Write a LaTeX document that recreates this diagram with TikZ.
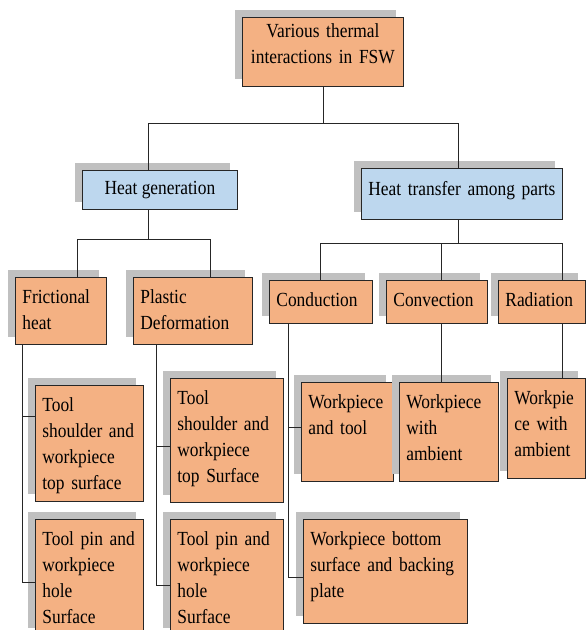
\documentclass[tikz,border=0pt]{standalone}
\usepackage{fontspec}
\setmainfont{Liberation Serif}[FakeStretch=0.87]
\usepackage{tikz}
\usetikzlibrary{shadows}
\definecolor{peach}{HTML}{F4B183}
\definecolor{paleblue}{HTML}{BDD7EE}
\definecolor{shadegrey}{HTML}{C0C0C0}
\tikzstyle{dropshade}=[general shadow={fill=shadegrey, shadow xshift=-7pt, shadow yshift=7pt}]
\tikzstyle{box}=[rectangle, draw=black!85, line width=0.8pt, anchor=north west, dropshade, text=black, font=\fontsize{20}{26}\selectfont]
\tikzstyle{head}=[box, align=center, inner sep=0pt]
\tikzstyle{leaf}=[box, fill=peach, align=left, inner xsep=7pt, inner ysep=12pt, text height=14pt]
\tikzstyle{wire}=[draw=black!85, line width=0.8pt]
\tikzset{every picture/.style={
    x=1pt, y=-1pt
  }
}

\begin{document}
\begin{tikzpicture}
  \useasboundingbox (0,0) rectangle (586,630);
  % top levels
  \node[leaf, align=center, inner ysep=6pt, text width=147pt, text depth=43pt] at (242,17) (fsw) {Various thermal\\interactions in FSW};
  \node[head, fill=paleblue, minimum width=155pt, minimum height=39pt] at (82,170) (hgen) {Heat generation};
  \node[leaf, fill=paleblue, align=center, inner xsep=0pt, inner ysep=13pt, text width=201pt, text depth=11pt] at (361,168) (htr) {Heat transfer among parts};
  % kinds
  \node[leaf, text width=77pt, text depth=29pt] at (15,277) (fric) {Frictional\\heat};
  \node[leaf, text width=105pt, text depth=29pt] at (133,277) (plas) {Plastic\\Deformation};
  \node[leaf, text width=89pt, text depth=5pt] at (269,280) (cond) {Conduction};
  \node[leaf, text width=87pt, text depth=5pt] at (386,280) (conv) {Convection};
  \node[leaf, text width=73pt, text depth=5pt] at (498,280) (rad) {Radiation};
  % surfaces
  \node[leaf, text width=94pt, text depth=78pt] at (35,385) (fts) {Tool\\shoulder and\\workpiece\\top surface};
  \node[leaf, text width=94pt, text depth=78pt] at (35,519) (fpin) {Tool pin and\\workpiece\\hole\\Surface};
  \node[leaf, text width=99pt, text depth=86pt] at (170,378) (pts) {Tool\\shoulder and\\workpiece\\top Surface};
  \node[leaf, text width=99pt, text depth=78pt] at (170,519) (ppin) {Tool pin and\\workpiece\\hole\\Surface};
  \node[leaf, text width=78pt, text depth=61pt] at (301,382) (cwt) {Workpiece\\and tool};
  \node[leaf, text width=85pt, text depth=61pt] at (399,382) (cva) {Workpiece\\with\\ambient};
  \node[leaf, text width=64pt, text depth=62pt] at (507,378) (rwa) {Workpie\\ce with\\ambient};
  \node[leaf, text width=150pt, text depth=66pt] at (303,519) (cbot) {Workpiece bottom\\surface and backing\\plate};
  % joints
  \coordinate (t1) at (148,123);
  \coordinate (t2) at (458,123);
  \coordinate (g0) at (148,239);
  \coordinate (g1) at (77,239);
  \coordinate (g2) at (210,239);
  \coordinate (h0) at (458,243);
  \coordinate (h1) at (320,243);
  \coordinate (h2) at (441,243);
  \coordinate (h3) at (562,243);
  \coordinate (f1) at (22,416);
  \coordinate (f2) at (22,582);
  \coordinate (p1) at (156,446);
  \coordinate (p2) at (156,585);
  \coordinate (c1) at (288,427);
  \coordinate (c2) at (288,577);
  % tree
  \draw[wire] (fsw.south) -- (fsw.south |- t1);
  \draw[wire] (t1) -- (t2);
  \draw[wire] (t1) -- (t1 |- hgen.north);
  \draw[wire] (t2) -- (t2 |- htr.north);
  \draw[wire] (g0 |- hgen.south) -- (g0);
  \draw[wire] (g1) -- (g2);
  \draw[wire] (g1) -- (g1 |- fric.north);
  \draw[wire] (g2) -- (g2 |- plas.north);
  \draw[wire] (h0 |- htr.south) -- (h0);
  \draw[wire] (h1) -- (h3);
  \draw[wire] (h1) -- (h1 |- cond.north);
  \draw[wire] (h2) -- (h2 |- conv.north);
  \draw[wire] (h3) -- (h3 |- rad.north);
  \draw[wire] (f1 |- fric.south) -- (f2) -- (f2 -| fpin.west);
  \draw[wire] (f1) -- (f1 -| fts.west);
  \draw[wire] (p1 |- plas.south) -- (p2) -- (p2 -| ppin.west);
  \draw[wire] (p1) -- (p1 -| pts.west);
  \draw[wire] (c1 |- cond.south) -- (c2) -- (c2 -| cbot.west);
  \draw[wire] (c1) -- (c1 -| cwt.west);
  \draw[wire] (h2 |- conv.south) -- (h2 |- cva.north);
  \draw[wire] (h3 |- rad.south) -- (h3 |- rwa.north);
\end{tikzpicture}
\end{document}
